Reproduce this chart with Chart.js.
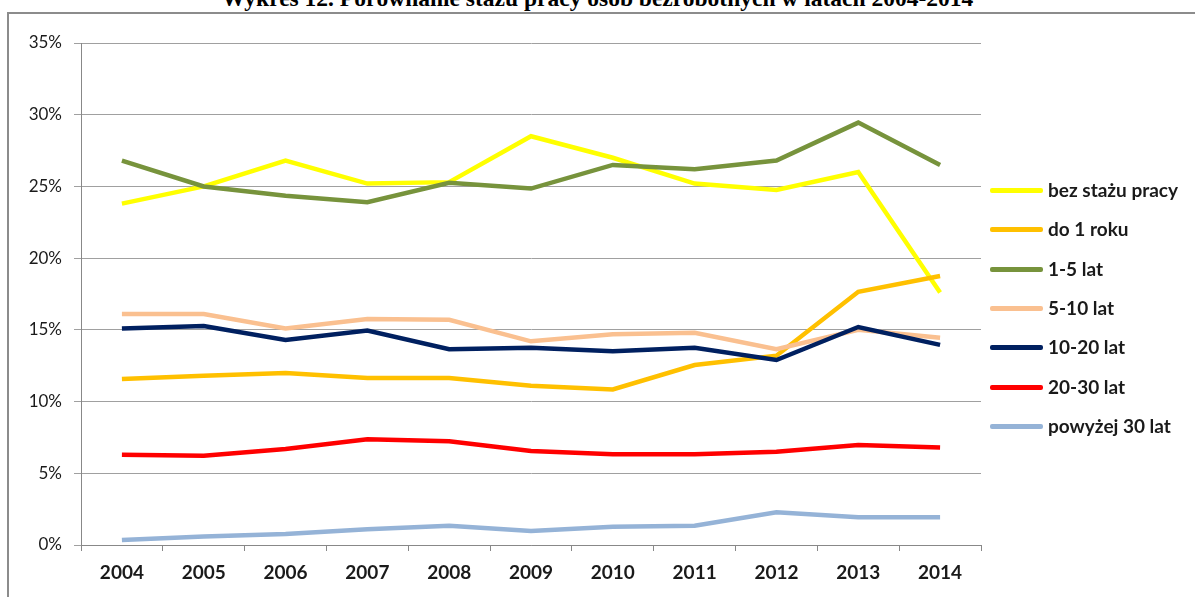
<!DOCTYPE html>
<html>
<head>
<meta charset="utf-8">
<script src="https://cdn.jsdelivr.net/npm/chart.js@4"></script>
<style>
    body {
        margin: 0;
        background: #fff;
        width: 1195px;
        height: 597px;
        overflow: hidden;
        position: relative;
        font-family: Lato, "Open Sans", sans-serif;
    }
    #title {
        position: absolute;
        left: 0;
        width: 1195px;
        top: -15px;
        line-height: 26px;
        text-align: center;
        font: bold 23.5px "Liberation Serif", "DejaVu Serif", serif;
        color: #000;
        white-space: nowrap;
    }
    #frame {
        position: absolute;
        left: 7px;
        top: 12px;
        width: 1200px;
        height: 600px;
        border-left: 2px solid #8c8c8c;
        border-top: 2px solid #8c8c8c;
    }
    #chart {
        position: absolute;
        left: 0;
        top: 0;
    }
    .item {
        position: absolute;
        left: 990px;
        height: 20px;
        white-space: nowrap;
        font-size: 19px;
        font-weight: bold;
        color: #1a1a1a;
    }
    .item span.line {
        position: absolute;
        left: 0;
        top: 8px;
        width: 53px;
        height: 5px;
        border-radius: 2px;
    }
    .item span.label {
        position: absolute;
        left: 58px;
        top: -2px;
    }
</style>
</head>
<body>
<div id="title">Wykres 12. Porównanie stażu pracy osób bezrobotnych w latach 2004-2014</div>
<div id="frame"></div>
<canvas id="chart" width="1000" height="597"></canvas>
<div id="legend"></div>

<script>
// Data (percent of unemployed)
const years = ['2004', '2005', '2006', '2007', '2008', '2009', '2010', '2011', '2012', '2013', '2014'];
const seriesNames = ['bez stażu pracy', 'do 1 roku', '1-5 lat', '5-10 lat', '10-20 lat', '20-30 lat', 'powyżej 30 lat'];
const bezStazu  = [23.8, 25.0, 26.8, 25.2, 25.3, 28.5, 27.0, 25.2, 24.75, 26.0, 17.6];
const do1Roku   = [11.57, 11.8, 12.0, 11.65, 11.65, 11.1, 10.85, 12.55, 13.2, 17.65, 18.75];
const lat1do5   = [26.8, 25.0, 24.35, 23.9, 25.25, 24.85, 26.5, 26.2, 26.8, 29.45, 26.5];
const lat5do10  = [16.1, 16.1, 15.1, 15.75, 15.7, 14.2, 14.7, 14.8, 13.65, 15.0, 14.45];
const lat10do20 = [15.1, 15.27, 14.3, 14.95, 13.65, 13.75, 13.5, 13.75, 12.9, 15.2, 13.95];
const lat20do30 = [6.3, 6.23, 6.7, 7.37, 7.23, 6.55, 6.32, 6.32, 6.5, 6.97, 6.8];
const powyzej30 = [0.35, 0.6, 0.77, 1.1, 1.35, 0.98, 1.28, 1.35, 2.28, 1.93, 1.93];
const yTicks = [0, 5, 10, 15, 20, 25, 30, 35];

const seriesValues = [bezStazu, do1Roku, lat1do5, lat5do10, lat10do20, lat20do30, powyzej30];
const seriesColors = ['#ffff00', '#ffc000', '#77933c', '#fac090', '#002060', '#ff0000', '#95b3d7'];

const datasets = seriesValues.map((values, i) => ({
    label: seriesNames[i],
    data: values,
    borderColor: seriesColors[i],
    backgroundColor: seriesColors[i],
    borderWidth: 4.5,
    pointRadius: 0,
    tension: 0,
    fill: false,
    // later series on top, like the spreadsheet original
    order: seriesValues.length - i
}));

// legend built from the same arrays
const legend = document.getElementById('legend');
const legendTop = 180;
const legendStep = 39.3;
seriesNames.forEach((name, i) => {
    const item = document.createElement('div');
    item.className = 'item';
    item.style.top = (legendTop + i * legendStep) + 'px';
    item.innerHTML = '<span class="line" style="background:' + seriesColors[i] + '"></span>' +
        '<span class="label">' + name + '</span>';
    legend.appendChild(item);
});

const fontFamily = 'Lato, "Open Sans", sans-serif';

new Chart(document.getElementById('chart'), {
    type: 'line',
    data: { labels: years, datasets: datasets },
    options: {
        responsive: false,
        animation: false,
        layout: {
            padding: { left: 0, top: 43, right: 19, bottom: 12 }
        },
        plugins: {
            legend: { display: false },
            tooltip: { enabled: false }
        },
        scales: {
            x: {
                offset: true,
                grid: {
                    offset: true,
                    drawOnChartArea: false,
                    drawTicks: true,
                    tickLength: 6,
                    color: '#888'
                },
                border: { color: '#888', width: 1 },
                ticks: {
                    color: '#1a1a1a',
                    font: { family: fontFamily, size: 19, weight: 'bold' },
                    padding: 10,
                    maxRotation: 0
                },
                afterFit(scale) { scale.height = 40; }
            },
            y: {
                min: 0,
                max: 35,
                afterBuildTicks(scale) {
                    scale.ticks = yTicks.map(v => ({ value: v }));
                },
                grid: {
                    color: '#a0a0a0',
                    lineWidth: 1,
                    drawTicks: true,
                    tickLength: 7
                },
                border: { color: '#888', width: 1 },
                ticks: {
                    color: '#1a1a1a',
                    font: { family: fontFamily, size: 17 },
                    padding: 12,
                    callback: v => v + '%'
                },
                afterFit(scale) { scale.width = 81; }
            }
        }
    }
});
</script>
</body>
</html>
